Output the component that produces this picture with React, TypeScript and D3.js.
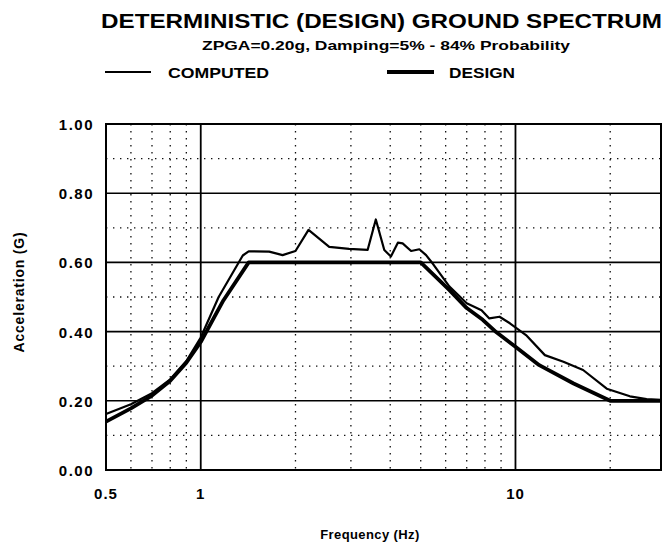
import React from "react";
import * as d3 from "d3";

const computedFreq = [0.5, 0.6, 0.7, 0.8, 0.9, 1.0, 1.14, 1.36, 1.42, 1.65, 1.82, 2.0, 2.2, 2.56, 2.96, 3.39, 3.6, 3.83, 4.02, 4.23, 4.38, 4.66, 4.95, 5.2, 5.4, 6.17, 7.0, 7.8, 8.26, 8.9, 9.6, 10.8, 12.4, 14.2, 16.4, 19.5, 23.1, 26.1, 29];
const computedAcc = [0.162, 0.19, 0.222, 0.262, 0.315, 0.383, 0.5, 0.62, 0.632, 0.631, 0.621, 0.633, 0.694, 0.645, 0.639, 0.636, 0.724, 0.636, 0.617, 0.657, 0.655, 0.633, 0.638, 0.621, 0.602, 0.53, 0.482, 0.462, 0.438, 0.443, 0.424, 0.39, 0.332, 0.313, 0.289, 0.235, 0.213, 0.205, 0.203];

const designFreq = [0.5, 0.6, 0.7, 0.8, 0.9, 1.0, 1.18, 1.42, 5.0, 6.17, 7.0, 7.87, 8.7, 10, 11.9, 15.3, 20, 29];
const designAcc = [0.14, 0.178, 0.215, 0.258, 0.31, 0.37, 0.49, 0.6, 0.6, 0.52, 0.468, 0.434, 0.398, 0.356, 0.303, 0.25, 0.2, 0.2];

const yMajor = [0, 0.2, 0.4, 0.6, 0.8, 1.0];
const yMinor = [0.1, 0.3, 0.5, 0.7, 0.9];
const xMajor = [1, 10];
const xMinor = [0.6, 0.7, 0.8, 0.9, 2, 3, 4, 5, 6, 7, 8, 9, 20];
const xTickLabels = [
  { v: 0.5, t: "0.5" },
  { v: 1, t: "1" },
  { v: 10, t: "10" },
];

const title = "DETERMINISTIC (DESIGN) GROUND SPECTRUM";
const subtitle = "ZPGA=0.20g, Damping=5% - 84% Probability";
const xTitle = "Frequency (Hz)";
const yTitle = "Acceleration (G)";
const legendComputed = "COMPUTED";
const legendDesign = "DESIGN";

const W = 662;
const H = 546;
const L = 106, R = 661, T = 124, B = 470;
const FONT = "'Liberation Sans', Arial, Helvetica, sans-serif";

export default function App() {
  const x = d3.scaleLog().domain([0.5, 29]).range([L, R]);
  const y = d3.scaleLinear().domain([0, 1]).range([B, T]);
  const line = d3
    .line<[number, number]>()
    .x((d) => x(d[0]))
    .y((d) => y(d[1]))
    .curve(d3.curveLinear);
  const computed = computedFreq.map((f, i) => [f, computedAcc[i]] as [number, number]);
  const design = designFreq.map((f, i) => [f, designAcc[i]] as [number, number]);

  return (
    <svg
      width={W}
      height={H}
      style={{ position: "absolute", left: 0, top: 0, background: "#fff" }}
      fontFamily={FONT}
    >
      <rect x={0} y={0} width={W} height={H} fill="#fff" />
      {/* titles */}
      <text x={101} y={28} fontSize={21} fontWeight="bold" textLength={561} lengthAdjust="spacingAndGlyphs" fill="#000">
        {title}
      </text>
      <text x={202} y={50} fontSize={13} fontWeight="bold" textLength={368} lengthAdjust="spacingAndGlyphs" fill="#000">
        {subtitle}
      </text>
      {/* legend */}
      <line x1={105} x2={151} y1={72} y2={72} stroke="#000" strokeWidth={2} />
      <text x={168} y={77.5} fontSize={15} fontWeight="bold" textLength={101} lengthAdjust="spacingAndGlyphs">
        {legendComputed}
      </text>
      <line x1={387} x2={434} y1={72} y2={72} stroke="#000" strokeWidth={4} />
      <text x={449} y={77.5} fontSize={15} fontWeight="bold" textLength={66} lengthAdjust="spacingAndGlyphs">
        {legendDesign}
      </text>

      {/* minor grid */}
      {yMinor.map((v) => (
        <line key={"ym" + v} x1={L} x2={R} y1={y(v)} y2={y(v)} stroke="#111" strokeWidth={1.3} strokeDasharray="1.4 5.6" />
      ))}
      {xMinor.map((v) => (
        <line key={"xm" + v} x1={x(v)} x2={x(v)} y1={T} y2={B} stroke="#111" strokeWidth={1.3} strokeDasharray="1.4 5.6" />
      ))}
      {/* major grid */}
      {yMajor.map((v) => (
        <line key={"yM" + v} x1={L} x2={R} y1={y(v)} y2={y(v)} stroke="#000" strokeWidth={1.6} />
      ))}
      {xMajor.map((v) => (
        <line key={"xM" + v} x1={x(v)} x2={x(v)} y1={T} y2={B} stroke="#000" strokeWidth={1.8} />
      ))}
      <rect x={L} y={T} width={R - L} height={B - T} fill="none" stroke="#000" strokeWidth={2} />

      {/* data */}
      <path d={line(design) || ""} fill="none" stroke="#000" strokeWidth={3.8} strokeLinejoin="round" />
      <path d={line(computed) || ""} fill="none" stroke="#000" strokeWidth={2.2} strokeLinejoin="round" />

      {/* y tick labels */}
      {yMajor.map((v) => (
        <text key={"yl" + v} x={94} y={y(v) + 6} fontSize={15} fontWeight="bold" textAnchor="end" letterSpacing={1.5}>
          {v.toFixed(2)}
        </text>
      ))}
      {/* x tick labels */}
      {xTickLabels.map((d) => (
        <text key={"xl" + d.t} x={x(d.v)} y={499} fontSize={15} fontWeight="bold" textAnchor="middle" letterSpacing={1}>
          {d.t}
        </text>
      ))}
      <text x={370} y={539} fontSize={13} fontWeight="bold" textAnchor="middle" letterSpacing={0.4}>
        {xTitle}
      </text>
      <text
        transform={`translate(24, 292) rotate(-90)`}
        fontSize={14}
        fontWeight="bold"
        textAnchor="middle"
        letterSpacing={0.8}
      >
        {yTitle}
      </text>
    </svg>
  );
}
